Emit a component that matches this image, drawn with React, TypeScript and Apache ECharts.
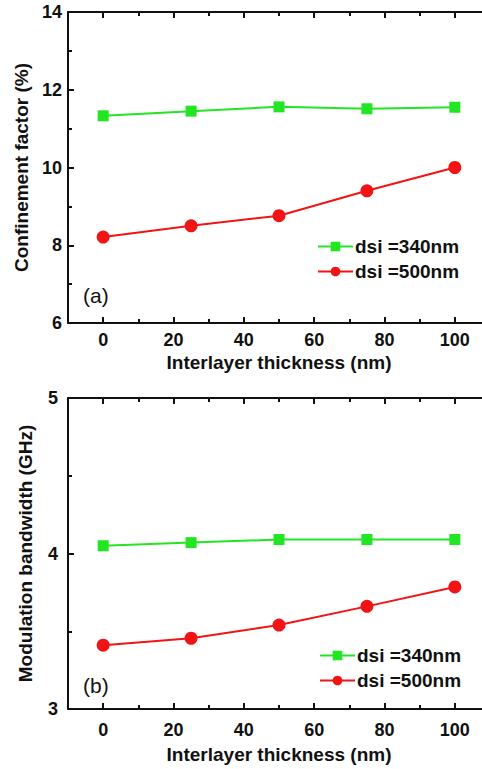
import React, { useEffect, useRef } from "react";
import * as echarts from "echarts";

const xValues = [0, 25, 50, 75, 100];
const confinement340 = [11.33, 11.45, 11.56, 11.51, 11.55];
const confinement500 = [8.21, 8.5, 8.76, 9.4, 10.0];
const bandwidth340 = [4.05, 4.07, 4.09, 4.09, 4.09];
const bandwidth500 = [3.41, 3.455, 3.54, 3.66, 3.785];
const xMajorTicks = [0, 20, 40, 60, 80, 100];
const xMinorTicks = [10, 30, 50, 70, 90];
const seriesNames = ["dsi =340nm", "dsi =500nm"];

const FONT = "'Liberation Sans', Arial, sans-serif";
const GREEN = "#22e622";
const RED = "#f21414";
const AX = "#111";

function pairs(ys: number[]) {
  return xValues.map((x, i) => [x, ys[i]]);
}

function xAxes(gridIndex: number, labelMargin: number, nameGap: number) {
  const base = {
    type: "value",
    gridIndex,
    min: -10,
    max: 110,
    splitLine: { show: false },
  };
  return [
    {
      ...base,
      position: "bottom",
      name: "Interlayer thickness (nm)",
      nameLocation: "middle",
      nameGap,
      nameTextStyle: { fontFamily: FONT, fontWeight: "bold", fontSize: 19, color: AX },
      axisLine: { show: true, onZero: false, lineStyle: { color: AX, width: 2 } },
      axisTick: { show: true, inside: true, length: 6, lineStyle: { color: AX, width: 2 }, customValues: xMajorTicks },
      axisLabel: { show: true, margin: labelMargin, fontFamily: FONT, fontWeight: "bold", fontSize: 18, color: AX, customValues: xMajorTicks },
    },
    {
      ...base,
      position: "bottom",
      axisLine: { show: false, onZero: false },
      axisTick: { show: true, inside: true, length: 4, lineStyle: { color: AX, width: 2 }, customValues: xMinorTicks },
      axisLabel: { show: false },
    },
    {
      ...base,
      position: "top",
      axisLine: { show: true, onZero: false, lineStyle: { color: AX, width: 2 } },
      axisTick: { show: true, inside: true, length: 6, lineStyle: { color: AX, width: 2 }, customValues: xMajorTicks },
      axisLabel: { show: false },
    },
    {
      ...base,
      position: "top",
      axisLine: { show: false, onZero: false },
      axisTick: { show: true, inside: true, length: 4, lineStyle: { color: AX, width: 2 }, customValues: xMinorTicks },
      axisLabel: { show: false },
    },
  ];
}

function yAxis(gridIndex: number, min: number, max: number, name: string, nameGap: number, labelMargin: number) {
  return {
    type: "value",
    gridIndex,
    position: "left",
    min,
    max,
    interval: gridIndex === 0 ? 2 : 1,
    name,
    nameLocation: "middle",
    nameGap,
    nameTextStyle: { fontFamily: FONT, fontWeight: "bold", fontSize: 19, color: AX },
    splitLine: { show: false },
    axisLine: { show: true, onZero: false, lineStyle: { color: AX, width: 2 } },
    axisTick: { show: true, inside: true, length: 6, lineStyle: { color: AX, width: 2 } },
    minorTick: { show: true, splitNumber: 2, length: 4, lineStyle: { color: AX, width: 2 } },
    axisLabel: { margin: labelMargin, fontFamily: FONT, fontWeight: "bold", fontSize: 18, color: AX },
  };
}

function lineSeries(name: string, xIdx: number, yIdx: number, data: number[][], color: string, symbol: string, size: number) {
  return {
    type: "line",
    name,
    xAxisIndex: xIdx,
    yAxisIndex: yIdx,
    data,
    symbol,
    symbolSize: size,
    lineStyle: { color, width: 2 },
    itemStyle: { color },
    z: 5,
  };
}

function legend(left: number, top: number) {
  return {
    orient: "vertical",
    left,
    top,
    data: seriesNames,
    itemWidth: 35,
    itemHeight: 12,
    itemGap: 6,
    selectedMode: false,
    textStyle: { fontFamily: FONT, fontWeight: "bold", fontSize: 19, color: AX, padding: [0, 0, 0, -3] },
  };
}

export default function App() {
  const ref = useRef<HTMLDivElement>(null);
  useEffect(() => {
    if (!ref.current) return;
    const chart = echarts.init(ref.current, undefined, { renderer: "svg" });
    chart.setOption({
      animation: false,
      backgroundColor: "#fff",
      grid: [
        { left: 68, right: 10, top: 12, bottom: 446 },
        { left: 68, right: 10, top: 398, bottom: 60 },
      ],
      xAxis: [...xAxes(0, 8, 30), ...xAxes(1, 12, 36)],
      yAxis: [
        yAxis(0, 6, 14, "Confinement factor (%)", 37, 6),
        yAxis(1, 3, 5, "Modulation bandwidth (GHz)", 33, 10),
      ],
      legend: [legend(312, 232), legend(314, 641)],
      graphic: [
        { type: "text", left: 83, top: 285, style: { text: "(a)", font: `21px ${FONT}`, fill: AX } },
        { type: "text", left: 83, top: 675, style: { text: "(b)", font: `21px ${FONT}`, fill: AX } },
      ],
      series: [
        lineSeries(seriesNames[0], 0, 0, pairs(confinement340), GREEN, "rect", 11),
        lineSeries(seriesNames[1], 0, 0, pairs(confinement500), RED, "circle", 13),
        lineSeries(seriesNames[0], 4, 1, pairs(bandwidth340), GREEN, "rect", 11),
        lineSeries(seriesNames[1], 4, 1, pairs(bandwidth500), RED, "circle", 13),
      ],
    });
    return () => chart.dispose();
  }, []);
  return (
    <div style={{ position: "fixed", left: 0, top: 0, width: 482, height: 769, overflow: "hidden", background: "#fff" }}>
      <div ref={ref} style={{ width: 500, height: 769 }} />
    </div>
  );
}
